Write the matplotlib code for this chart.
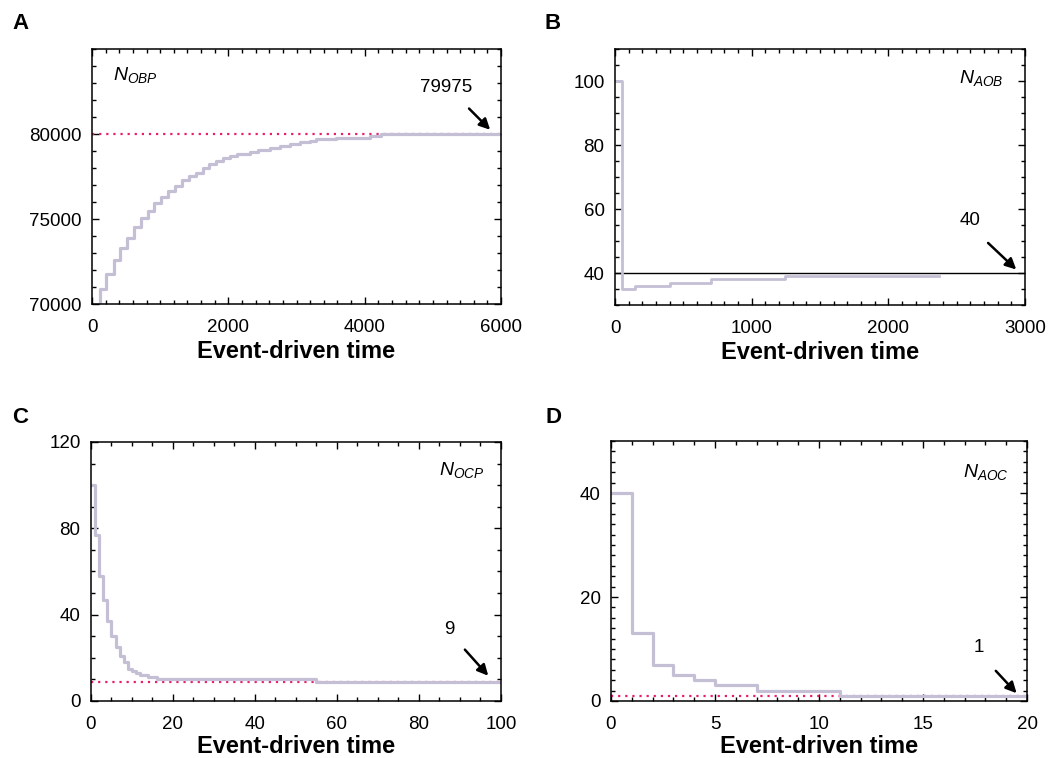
""" step plots of cell numbers against event-driven time """

import matplotlib
matplotlib.use("Agg")
from matplotlib import pyplot as plt
from matplotlib.ticker import MultipleLocator

plt.rcParams['font.family'] = ['Liberation Sans', 'DejaVu Sans']
plt.rcParams['mathtext.fontset'] = 'custom'
plt.rcParams['mathtext.it'] = 'Liberation Sans:italic'
plt.rcParams['mathtext.rm'] = 'Liberation Sans'

# panel A: N_OBP
obp_t = [0, 110, 210, 315, 415, 515, 615, 720, 820, 910, 1015, 1115, 1215,
         1320, 1420, 1520, 1625, 1715, 1815, 1920, 2020, 2125, 2310, 2435,
         2605, 2750, 2900, 3045, 3190, 3290, 3585, 4075, 4235, 6000]
obp_n = [69800, 70877, 71795, 72573, 73315, 73900, 74503, 75070, 75497, 75947,
         76316, 76667, 76959, 77290, 77544, 77737, 78030, 78228, 78421, 78579,
         78713, 78813, 78947, 79064, 79199, 79316, 79433, 79532, 79600, 79690,
         79784, 79883, 79975, 79975]
obp_final = 79975

# panel B: N_AOB
aob_t = [0, 54, 144, 400, 700, 1246, 2370]
aob_n = [100, 35, 36, 37, 38, 39, 39]
aob_final = 40

# panel C: N_OCP
ocp_t = [0, 1, 2, 3, 4, 5, 6, 7, 8, 9, 10, 11, 12, 14, 16, 55, 100]
ocp_n = [100, 77, 58, 47, 37, 30, 25, 21, 18, 15, 14, 13, 12, 11, 10, 9, 9]
ocp_final = 9

# panel D: N_AOC
aoc_t = [0, 1, 2, 3, 4, 5, 7, 11, 20]
aoc_n = [40, 13, 7, 5, 4, 3, 2, 1, 1]
aoc_final = 1

GRAY = '#c4bfd4'
RED = '#e61e6e'


def style_axes(ax, xlim, ylim, xmaj, xmin, ymaj, ymin, lpad=3):
    """ style axes """
    ax.set_xlim(*xlim)
    ax.set_ylim(*ylim)
    ax.set_xticks(xmaj)
    ax.set_yticks(ymaj)
    ax.xaxis.set_minor_locator(MultipleLocator(xmin))
    ax.yaxis.set_minor_locator(MultipleLocator(ymin))
    ax.tick_params(which='both', direction='in', top=True, right=True,
                   labelsize=13.5, width=1.0)
    ax.tick_params(which='major', length=5)
    ax.tick_params(which='minor', length=2.8)
    ax.tick_params(axis='x', pad=11)
    ax.tick_params(axis='y', pad=7.5)
    for sp in ax.spines.values():
        sp.set_linewidth(1.1)
    ax.set_xlabel("Event-driven time", fontsize=17, fontweight='bold', labelpad=lpad)


def mark_final(ax, text, txt_xy, tail, head):
    """ arrow to final value """
    ax.text(txt_xy[0], txt_xy[1], text, fontsize=13.5, ha='center', va='center')
    ax.annotate("", xy=head, xytext=tail,
                arrowprops=dict(arrowstyle='-|>', color='k', lw=1.8,
                                mutation_scale=16, shrinkA=0, shrinkB=0))


def main():
    """ main """
    fig = plt.figure(figsize=(10.58, 7.58), dpi=100)

    ax_a = fig.add_axes([0.0870, 0.5989, 0.3866, 0.3364])
    ax_b = fig.add_axes([0.5813, 0.5976, 0.3875, 0.3377])
    ax_c = fig.add_axes([0.0860, 0.0752, 0.3875, 0.3417])
    ax_d = fig.add_axes([0.5775, 0.0752, 0.3932, 0.3430])

    # A
    ax_a.plot([0, 6000], [obp_final, obp_final], color=RED, lw=1.6,
              linestyle=(0, (1, 2.2)))
    ax_a.step(obp_t, obp_n, where='post', color=GRAY, lw=2.3)
    style_axes(ax_a, (0, 6000), (70000, 85000), [0, 2000, 4000, 6000], 200,
               [70000, 75000, 80000], 1000)
    ax_a.text(310, 83500, r'$N_{OBP}$', fontsize=14, va='center')
    mark_final(ax_a, str(obp_final), (5200, 82750), (5530, 81500), (5840, 80250))

    # B
    ax_b.axhline(aob_final, color='k', lw=1.0)
    ax_b.step(aob_t, aob_n, where='post', color=GRAY, lw=2.0)
    style_axes(ax_b, (0, 3000), (30, 110), [0, 1000, 2000, 3000], 100,
               [40, 60, 80, 100], 5)
    ax_b.text(2520, 101, r'$N_{AOB}$', fontsize=14, va='center')
    mark_final(ax_b, str(aob_final), (2595, 56.5), (2730, 49.4), (2936, 41.1))

    # C
    ax_c.plot([0, 100], [ocp_final, ocp_final], color=RED, lw=1.6,
              linestyle=(0, (1, 2.2)))
    ax_c.step(ocp_t, ocp_n, where='post', color=GRAY, lw=2.3)
    style_axes(ax_c, (0, 100), (0, 120), [0, 20, 40, 60, 80, 100], 5,
               [0, 40, 80, 120], 10, lpad=1)
    ax_c.text(85, 107, r'$N_{OCP}$', fontsize=14, va='center')
    mark_final(ax_c, str(ocp_final), (87.3, 33), (91.2, 23.8), (96.9, 11.7))

    # D
    ax_d.plot([0, 20], [aoc_final, aoc_final], color=RED, lw=1.6,
              linestyle=(0, (1, 2.2)))
    ax_d.step(aoc_t, aoc_n, where='post', color=GRAY, lw=2.3)
    style_axes(ax_d, (0, 20), (0, 50), [0, 5, 10, 15, 20], 1,
               [0, 20, 40], 2, lpad=1)
    ax_d.text(16.9, 44, r'$N_{AOC}$', fontsize=14, va='center')
    mark_final(ax_d, str(aoc_final), (17.7, 10.2), (18.5, 5.8), (19.5, 1.5))

    for letter, x, y in [("A", 0.019, 0.969), ("B", 0.5227, 0.969),
                         ("C", 0.019, 0.4495), ("D", 0.5227, 0.4495)]:
        fig.text(x, y, letter, fontsize=16, fontweight='bold',
                 ha='center', va='center')

    fig.savefig("out.png", dpi=100)


main()
